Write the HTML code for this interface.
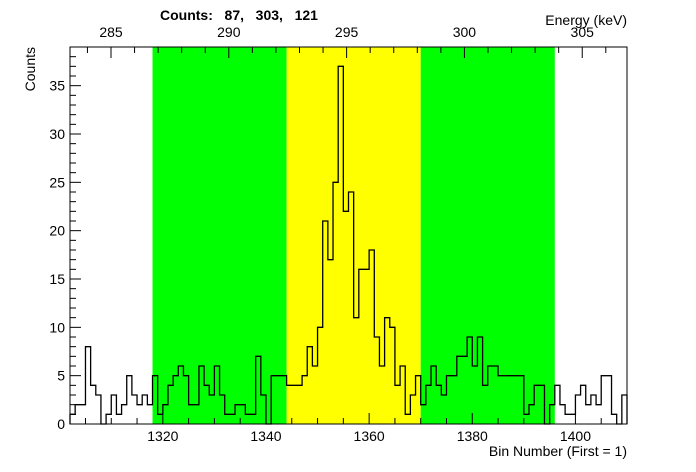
<!DOCTYPE html>
<html><head><meta charset="utf-8"><style>
body{margin:0;background:#fff;}
svg{display:block;font-family:"Liberation Sans",Arial,sans-serif;}
</style></head><body>
<svg id="chart" width="696" height="472" viewBox="0 0 696 472" xmlns="http://www.w3.org/2000/svg">
<g id="bands"></g>
<g id="hist"></g>
<g id="axes"></g>
<text x="160" y="20" font-size="14" font-weight="bold" xml:space="preserve">Counts:   87,   303,   121</text>
<text x="627" y="25" font-size="14" text-anchor="end">Energy (keV)</text>
<text x="627" y="456" font-size="14" text-anchor="end">Bin Number (First = 1)</text>
<text transform="translate(35,47) rotate(-90)" font-size="14" text-anchor="end">Counts</text>
</svg>
<script>
const counts = [1,2,2,8,4,3,0,1,3,1,2,5,3,2,3,2,
5,1,2,4,5,6,5,2,2,6,4,3,6,3,1,1,2,2,1,1,7,3,0,5,5,5,
4,4,4,5,8,6,10,21,17,25,37,22,24,11,16,16,18,9,6,11,10,4,6,1,3,5,
2,4,6,4,3,5,5,7,7,9,6,9,4,6,6,5,5,5,5,5,1,2,4,4,0,2,
4,2,1,1,3,4,2,3,2,5,5,1,0,3];
const firstBin = 1302;
const bandEdges = [1318,1344,1370,1396];
const bandColors = ["#00ff00","#ffff00","#00ff00"];
const xTicks = [1320,1340,1360,1380,1400];
const yTicks = [0,5,10,15,20,25,30,35];
const eTicks = [285,290,295,300,305];
const X0=70,X1=627,Y0=424,Y1=47;
const xMin=1302,xMax=1410,yMax=39,eMin=283.26,eMax=306.9;
const NS="http://www.w3.org/2000/svg";
const sx=v=>X0+(v-xMin)/(xMax-xMin)*(X1-X0);
const sy=v=>Y0-v/yMax*(Y0-Y1);
const se=v=>X0+(v-eMin)/(eMax-eMin)*(X1-X0);
function mk(tag,attrs,parent){const e=document.createElementNS(NS,tag);for(const k in attrs)e.setAttribute(k,attrs[k]);parent.appendChild(e);return e;}
const bands=document.getElementById('bands');
for(let i=0;i<bandEdges.length-1;i++){
 const r=mk('rect',{x:sx(bandEdges[i]),y:Y1,width:sx(bandEdges[i+1])-sx(bandEdges[i]),height:Y0-Y1,fill:bandColors[i]},bands);
 
 
}
let d='M'+sx(firstBin)+','+Y0;
counts.forEach((c,i)=>{d+=' L'+sx(firstBin+i)+','+sy(c)+' L'+sx(firstBin+i+1)+','+sy(c);});
d+=' L'+sx(firstBin+counts.length)+','+Y0;
const p=mk('path',{d:d,fill:'none',stroke:'#000','stroke-width':1.3},document.getElementById('hist'));


const ax=document.getElementById('axes');
mk('rect',{x:X0,y:Y1,width:X1-X0,height:Y0-Y1,fill:'none',stroke:'#000','stroke-width':1},ax);
for(let v=xMin;v<=xMax;v++){ if(v%5)continue; const maj=v%20===0;
 mk('line',{x1:sx(v),x2:sx(v),y1:Y0,y2:Y0-(maj?11:6),stroke:'#000'},ax);}
xTicks.forEach(v=>{const t=mk('text',{x:sx(v),y:Y0+17,'font-size':14,'text-anchor':'middle'},ax);t.textContent=v;
 });
for(let v=0;v<yMax;v++){const maj=v%5===0;
 mk('line',{x1:X0,x2:X0+(maj?11:6),y1:sy(v),y2:sy(v),stroke:'#000'},ax);}
yTicks.forEach(v=>{const t=mk('text',{x:X0-5,y:sy(v)+5,'font-size':14,'text-anchor':'end'},ax);t.textContent=v;
 });
for(let v=284;v<=306;v++){const maj=v%5===0;
 mk('line',{x1:se(v),x2:se(v),y1:Y1,y2:Y1+(maj?11:6),stroke:'#000'},ax);}
eTicks.forEach(v=>{const t=mk('text',{x:se(v),y:Y1-10,'font-size':14,'text-anchor':'middle'},ax);t.textContent=v;
 });
</script>
</body></html>
